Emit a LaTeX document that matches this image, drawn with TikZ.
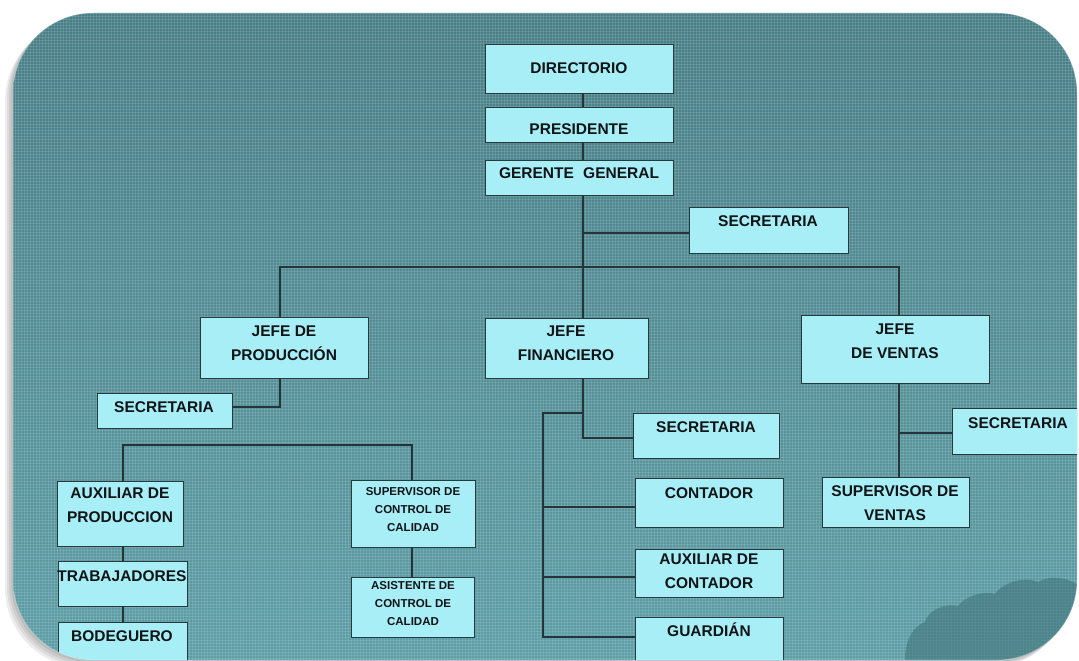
\documentclass[tikz,border=0pt]{standalone}
\usepackage{fontspec}
\setmainfont{Liberation Sans}
\usetikzlibrary{patterns,calc}
\definecolor{panelTop}{RGB}{72,126,134}
\definecolor{panelBot}{RGB}{94,158,166}
\definecolor{boxfill}{RGB}{168,238,246}
\definecolor{boxline}{RGB}{40,58,62}
\definecolor{conn}{RGB}{36,52,56}
\definecolor{cloudc}{RGB}{62,112,118}
\definecolor{txt}{RGB}{16,20,22}
\tikzset{
 obox/.style={draw=boxline, line width=1pt, fill=boxfill, inner sep=0pt, outer sep=0pt, rectangle},
 lbl/.style={inner sep=0pt, text=txt, font=\bfseries\fontsize{15.5}{24}\selectfont, align=center},
 slbl/.style={lbl, font=\bfseries\fontsize{11.5}{18}\selectfont},
 wire/.style={draw=conn, line width=1.2pt},
 panel/.style={rounded corners=80pt},
 shade/.style={fill=black, opacity=0.07, rounded corners=80pt},
}
\newcommand\orgbox[5]{%
 \node[obox, minimum width={(#4)-(#2)}, minimum height={(#5)-(#3)}] (#1) at ({((#2)+(#4))/2},{((#3)+(#5))/2}) {};}
\begin{document}
\begin{tikzpicture}[x=1pt,y=-1pt]
\useasboundingbox (0,0) rectangle (1079,661);
\fill[white] (0,0) rectangle (1079,661);
% soft shadow
\foreach \d in {2,4,6,8}{
 \fill[shade] ({13-\d},{13+\d}) rectangle ({1077-\d},{660+\d});
}
\path[panel, top color=panelTop, bottom color=panelBot] (13,13) rectangle (1077,660);
\begin{scope}
\clip[panel] (13,13) rectangle (1077,660);
\fill[pattern=grid, pattern color=white, opacity=0.12] (0,0) rectangle (1079,661);
\fill[cloudc, opacity=0.55] (905,665) .. controls (904,645) and (910,628) .. (925,622)
 .. controls (928,610) and (945,603) .. (958,606)
 .. controls (965,596) and (985,590) .. (995,594)
 .. controls (1003,582) and (1025,576) .. (1038,582)
 .. controls (1052,574) and (1072,578) .. (1085,590) -- (1085,665) -- cycle;
% boxes
\orgbox{dir}{485}{45}{673}{93}
\orgbox{pres}{485}{107}{673}{142}
\orgbox{ger}{485}{160}{673}{195}
\orgbox{sec0}{689}{207}{848}{253}
\orgbox{jp}{200}{317}{368}{378}
\orgbox{jf}{485}{318}{648}{378}
\orgbox{jv}{801}{315}{989}{383}
\orgbox{secP}{97}{393}{232}{428}
\orgbox{auxp}{57}{481}{183}{546}
\orgbox{trab}{58}{561}{187}{606}
\orgbox{bod}{58}{622}{187}{690}
\orgbox{supc}{351}{480}{475}{547}
\orgbox{asis}{351}{577}{474}{637}
\orgbox{secF}{633}{413}{779}{458}
\orgbox{cont}{635}{478}{783}{527}
\orgbox{auxc}{635}{549}{783}{597}
\orgbox{guard}{635}{617}{783}{690}
\orgbox{secV}{952}{408}{1100}{454}
\orgbox{supv}{822}{477}{969}{527}
% connector coordinates
\coordinate (v0) at (583,0);
\coordinate (gs) at (583,233);
\coordinate (bl) at (280,267);
\coordinate (br) at (899,267);
\coordinate (ps) at (280,407);
\coordinate (pa) at (123,445);
\coordinate (pb) at (412,445);
\coordinate (fs) at (583,438);
\coordinate (ft) at (583,413);
\coordinate (fl) at (543,413);
\coordinate (fb) at (543,637);
\coordinate (vs) at (899,433);
% connectors
\draw[wire] (dir.south -| v0) -- (pres.north -| v0);
\draw[wire] (pres.south -| v0) -- (ger.north -| v0);
\draw[wire] (ger.south -| v0) -- (jf.north -| v0);
\draw[wire] (gs) -- (gs -| sec0.west);
\draw[wire] (jp.north -| bl) -- (bl) -- (br) -- (jv.north -| br);
\draw[wire] (jp.south -| ps) -- (ps) -- (ps -| secP.east);
\draw[wire] (auxp.north -| pa) -- (pa) -- (pb) -- (supc.north -| pb);
\draw[wire] (auxp.south -| pa) -- (trab.north -| pa);
\draw[wire] (trab.south -| pa) -- (bod.north -| pa);
\draw[wire] (supc.south -| pb) -- (asis.north -| pb);
\draw[wire] (jf.south -| fs) -- (fs) -- (fs -| secF.west);
\draw[wire] (ft) -- (fl) -- (fb) -- (fb -| guard.west);
\draw[wire] (fl |- 0,507) -- (cont.west |- 0,507);
\draw[wire] (fl |- 0,577) -- (auxc.west |- 0,577);
\draw[wire] (jv.south -| vs) -- (supv.north -| vs);
\draw[wire] (vs) -- (vs -| secV.west);
% labels
\node[lbl] (dir-t) at (579,68) {DIRECTORIO};
\node[lbl] (pres-t) at (579,129) {PRESIDENTE};
\node[lbl] (ger-t) at (579,173) {GERENTE\hspace{0.6em}GENERAL};
\node[lbl] (sec0-t) at (768,221) {SECRETARIA};
\node[lbl] (jp-t) at (284,343) {JEFE DE\\PRODUCCIÓN};
\node[lbl] (jf-t) at (566,343) {JEFE\\FINANCIERO};
\node[lbl] (jv-t) at (895,341) {JEFE\\DE VENTAS};
\node[lbl] (secP-t) at (164,407) {SECRETARIA};
\node[lbl] (auxp-t) at (120,505) {AUXILIAR DE\\PRODUCCION};
\node[lbl] (trab-t) at (122,576) {TRABAJADORES};
\node[lbl] (bod-t) at (122,636) {BODEGUERO};
\node[slbl] (supc-t) at (413,510) {SUPERVISOR DE\\CONTROL DE\\CALIDAD};
\node[slbl] (asis-t) at (413,604) {ASISTENTE DE\\CONTROL DE\\CALIDAD};
\node[lbl] (secF-t) at (706,427) {SECRETARIA};
\node[lbl] (cont-t) at (709,493) {CONTADOR};
\node[lbl] (auxc-t) at (709,571) {AUXILIAR DE\\CONTADOR};
\node[lbl] (guard-t) at (709,630) {GUARDIÁN};
\node[lbl] (secV-t) at (1018,423) {SECRETARIA};
\node[lbl] (supv-t) at (895,503) {SUPERVISOR DE\\VENTAS};
\end{scope}
\draw[panel, white, opacity=0.25, line width=1pt] (13,13) rectangle (1077,660);
\end{tikzpicture}
\end{document}
